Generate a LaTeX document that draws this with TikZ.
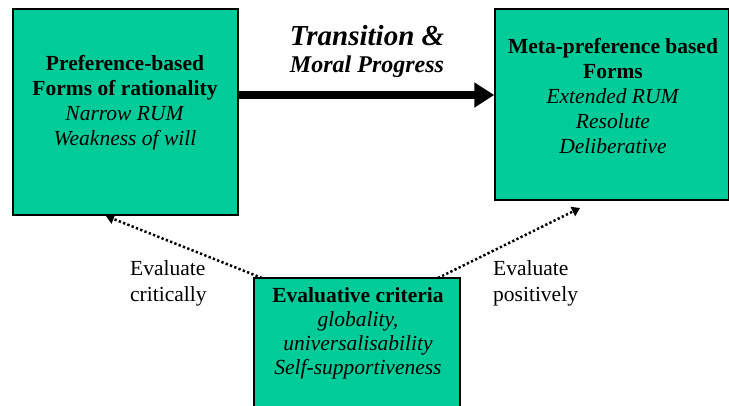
\documentclass[tikz,border=0pt]{standalone}
\usepackage{fontspec}
\setmainfont{Liberation Serif}
\usetikzlibrary{arrows.meta}
\definecolor{boxgreen}{HTML}{00CC99}
\begin{document}
\begin{tikzpicture}[x=1pt,y=-1pt,
  box/.style={draw=black,line width=1.5pt,fill=boxgreen,rectangle,inner sep=0pt},
  txt/.style={align=center,inner sep=0pt,font=\fontsize{21.5}{25}\selectfont},
  lbl/.style={align=left,inner sep=0pt,anchor=west,font=\fontsize{21.5}{26}\selectfont},
  dotarrow/.style={line width=2.5pt,dash pattern=on 2.3pt off 2.3pt,-{Triangle[width=10pt,length=8pt]}}]
\useasboundingbox (0,0) rectangle (729,405);
\clip (0,0) rectangle (729,405);
\node[box,minimum width=225pt,minimum height=206pt] (L) at (125.5,112) {};
\node[box,minimum width=234pt,minimum height=191pt] (R) at (612,104.5) {};
\node[box,minimum width=206pt,minimum height=140pt] (B) at (357,348) {};
\node[txt] (Lt) at (125,103) {\textbf{Preference-based}\\\textbf{Forms of rationality}\\\textit{Narrow RUM}\\\textit{Weakness of will}};
\node[txt] (Rt) at (613,96) {\textbf{Meta-preference based}\\\textbf{Forms}\\\textit{Extended RUM}\\\textit{Resolute}\\\textit{Deliberative}};
\node[txt,font=\fontsize{21.5}{24}\selectfont] (Bt) at (358,333) {\textbf{Evaluative criteria}\\\textit{globality,}\\\textit{universalisability}\\\textit{Self-supportiveness}};
\node[txt,font=\fontsize{29}{30}\selectfont\bfseries\itshape] (T1) at (367,36) {Transition \&};
\node[txt,font=\fontsize{24}{25}\selectfont\bfseries\itshape] (T2) at (367,67) {Moral Progress};
\draw[line width=8pt,-{Triangle[width=24pt,length=20pt]}] (L.east |- 0,95) -- (R.west |- 0,95);
\coordinate (BL) at (262,278);
\coordinate (BR) at (438,278);
\coordinate (LT) at (106,216);
\coordinate (RT) at (580,208);
\draw[dotarrow] (BL) -- (LT);
\draw[dotarrow] (BR) -- (RT);
\node[lbl] (E1) at (130,283) {Evaluate\\critically};
\node[lbl] (E2) at (493,283) {Evaluate\\positively};
\end{tikzpicture}
\end{document}
